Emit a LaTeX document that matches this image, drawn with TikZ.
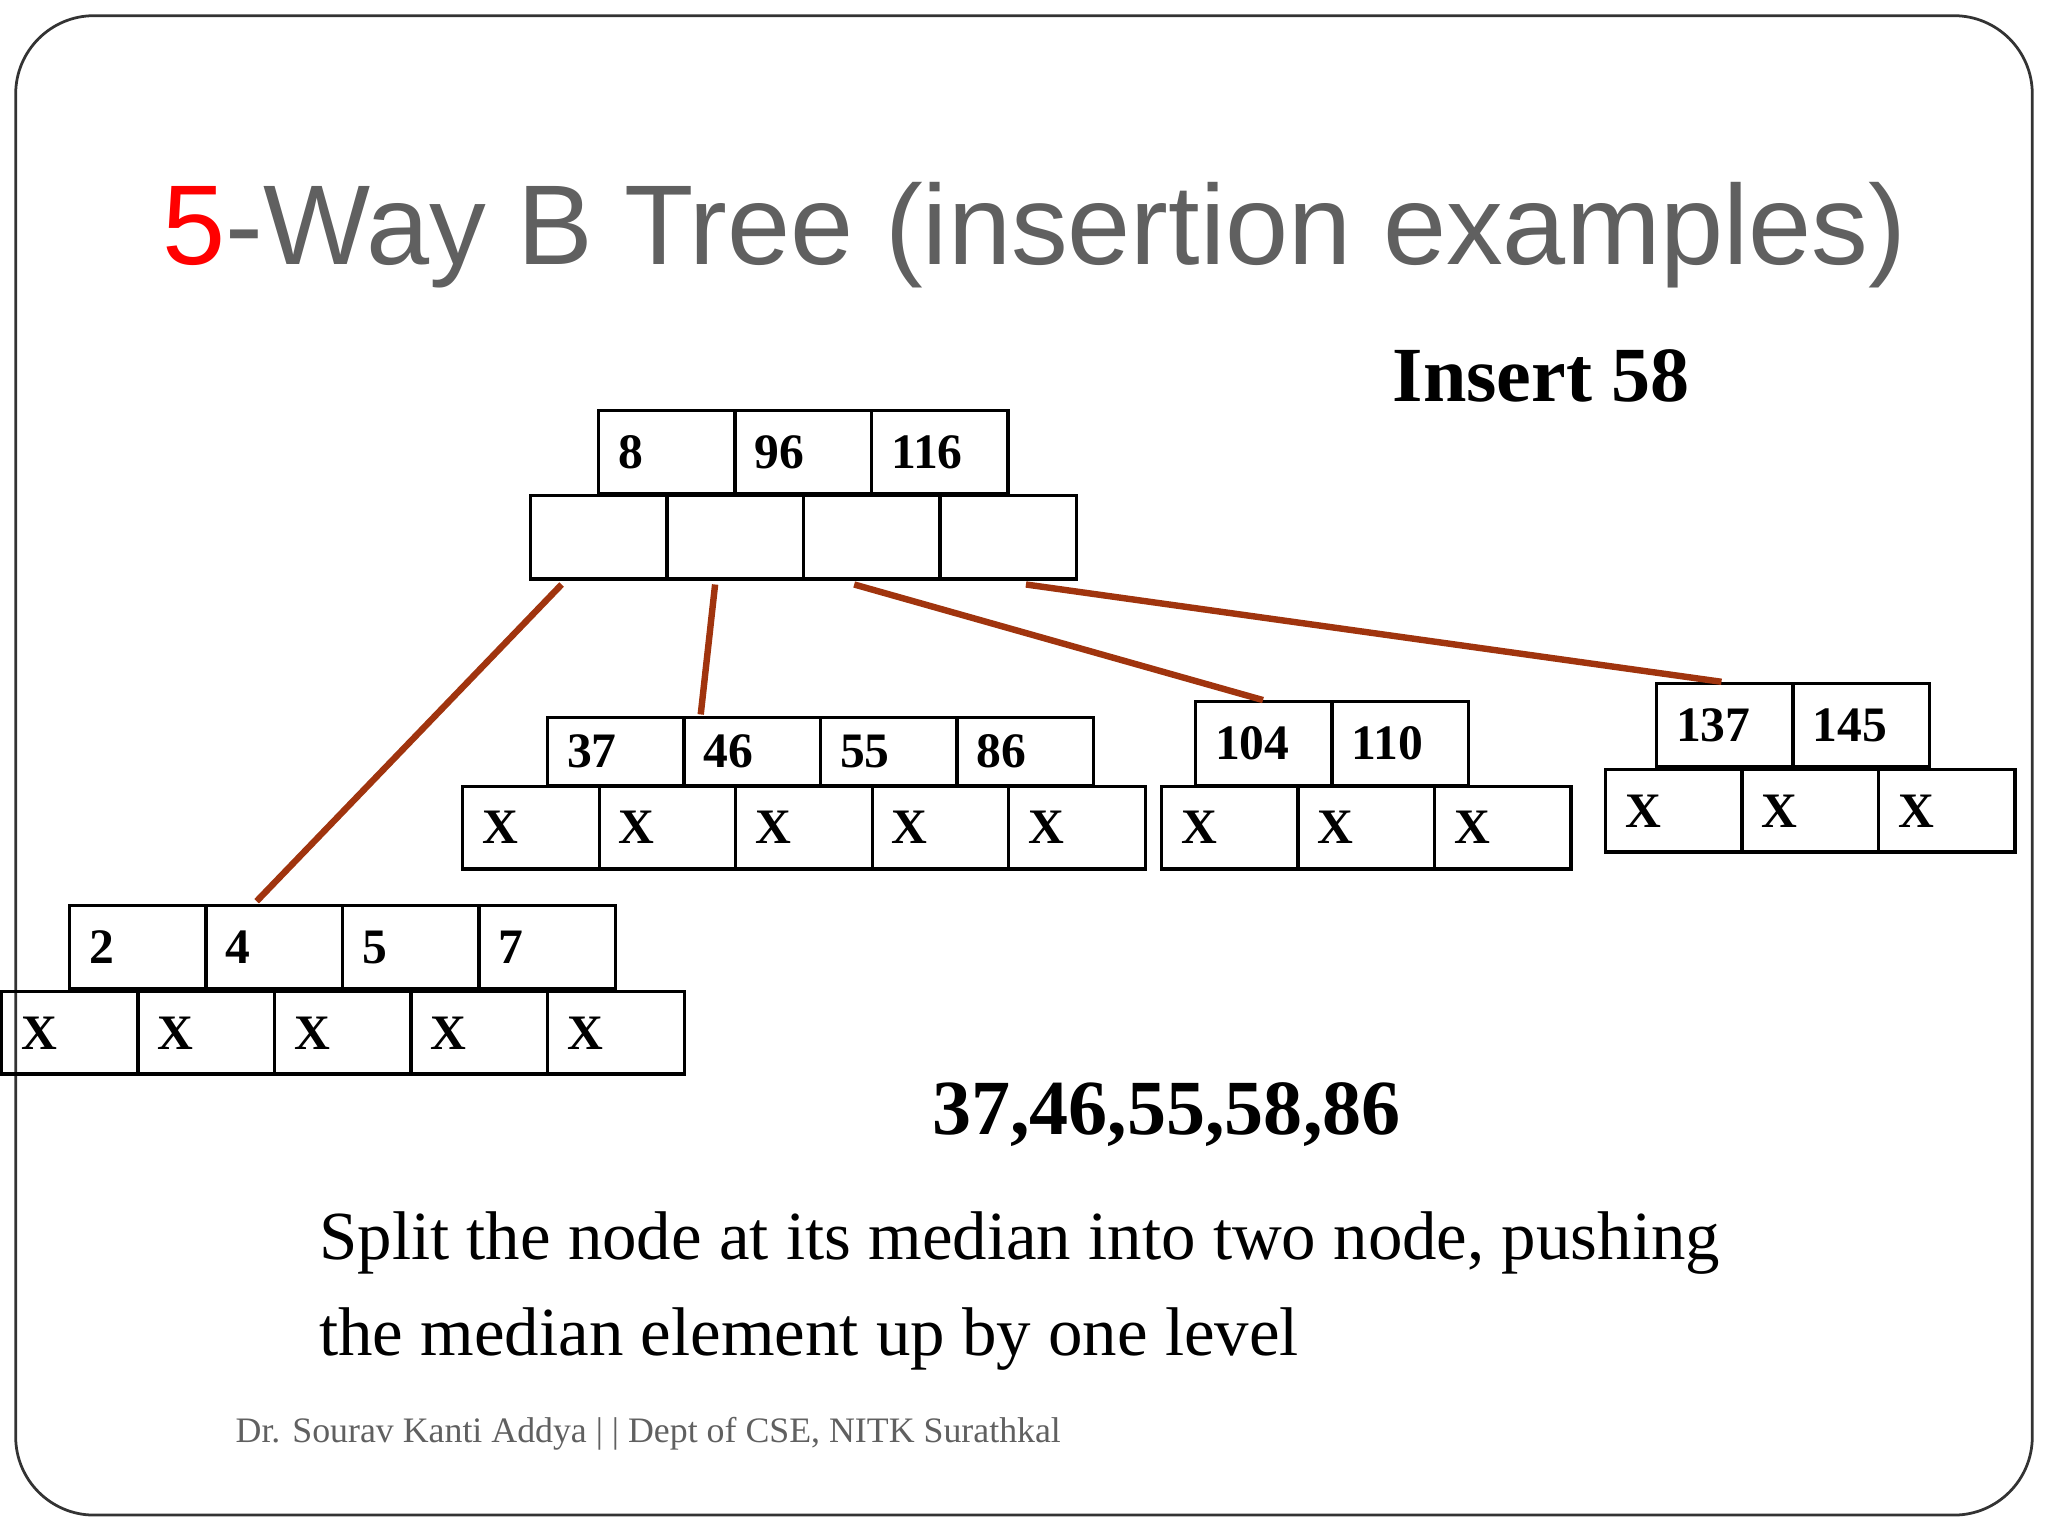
\documentclass[tikz,border=0pt]{standalone}
\usepackage{fontspec}
\setmainfont{Liberation Serif}
\newfontfamily\titlefont{Liberation Sans}
\usetikzlibrary{calc}
\definecolor{conn}{HTML}{A0340E}
\definecolor{tgray}{HTML}{606060}
\tikzset{
 cell/.style={draw,line width=0.7pt,minimum width=1.045cm,inner xsep=0.15cm,text width=0.745cm,align=left,anchor=north west,inner ysep=0pt,font=\fontsize{10.8}{12}\selectfont\bfseries},
 edge/.style={draw=conn,line width=1.4pt}
}
\begin{document}
\begin{tikzpicture}[x=0.01cm,y=-0.01cm]
\useasboundingbox (0,0) rectangle (1568,1176);
\draw[line width=0.6pt,rounded corners=0.6cm,color=black!80] (12,12) rectangle (1556,1160);
\node[anchor=center,font=\titlefont\fontsize{24.7}{28}\selectfont,text=tgray] (title) at (792,180) {\textcolor{red}{5}-Way B Tree (insertion examples)};
\node[font=\fontsize{17}{20}\selectfont\bfseries] (ins) at (1180,288) {Insert 58};
% root
\foreach \t [count=\i] in {8,96,116} \node[cell,minimum height=0.64cm] (rk\i) at ({457+(\i-1)*104.5},313) {\t};
\foreach \i in {1,...,4} \node[cell,minimum height=0.64cm] (rp\i) at ({405+(\i-1)*104.5},378) {};
% node A
\foreach \t [count=\i] in {2,4,5,7} \node[cell,minimum height=0.64cm] (ak\i) at ({52+(\i-1)*104.5},692) {\t};
\foreach \i in {1,...,5} \node[cell,minimum height=0.63cm] (ap\i) at ({0+(\i-1)*104.5},758) {X};
% node B
\foreach \t [count=\i] in {37,46,55,86} \node[cell,minimum height=0.52cm] (bk\i) at ({418+(\i-1)*104.5},548) {\raisebox{-1.2ex}{\t}};
\foreach \i in {1,...,5} \node[cell,minimum height=0.63cm] (bp\i) at ({353+(\i-1)*104.5},601) {X};
% node C
\foreach \t [count=\i] in {104,110} \node[cell,minimum height=0.64cm] (ck\i) at ({914+(\i-1)*104.5},536) {\t};
\foreach \i in {1,...,3} \node[cell,minimum height=0.63cm] (cp\i) at ({888+(\i-1)*104.5},601) {X};
% node D
\foreach \t [count=\i] in {137,145} \node[cell,minimum height=0.64cm] (dk\i) at ({1267+(\i-1)*104.5},522) {\t};
\foreach \i in {1,...,3} \node[cell,minimum height=0.63cm] (dp\i) at ({1228+(\i-1)*104.5},588) {X};
% connectors
\draw[edge] ($(rp1.south west)+(25,3)$) -- ($(ak2.north west)+(40,-2)$);
\draw[edge] ($(rp2.south west)+(38,3)$) -- ($(bk2.north west)+(14,-1)$);
\draw[edge] ($(rp3.south west)+(40,3)$) -- ($(ck1.north west)+(53,0)$);
\draw[edge] ($(rp4.south west)+(67,3)$) -- ($(dk1.north west)+(51,0)$);
% texts
\node[font=\fontsize{17}{20}\selectfont\bfseries] (seq) at (893,853) {37,46,55,58,86};
\node[anchor=north west,align=left,font=\fontsize{15}{21}\selectfont] (body) at (232,915) {Split the node at its median into two node, pushing\\the median element up by one level};
\node[anchor=west,font=\fontsize{7.8}{9}\selectfont,text=tgray] (foot) at (168,1098) {Dr. Sourav Kanti Addya | | Dept of CSE, NITK Surathkal};
\end{tikzpicture}
\end{document}
